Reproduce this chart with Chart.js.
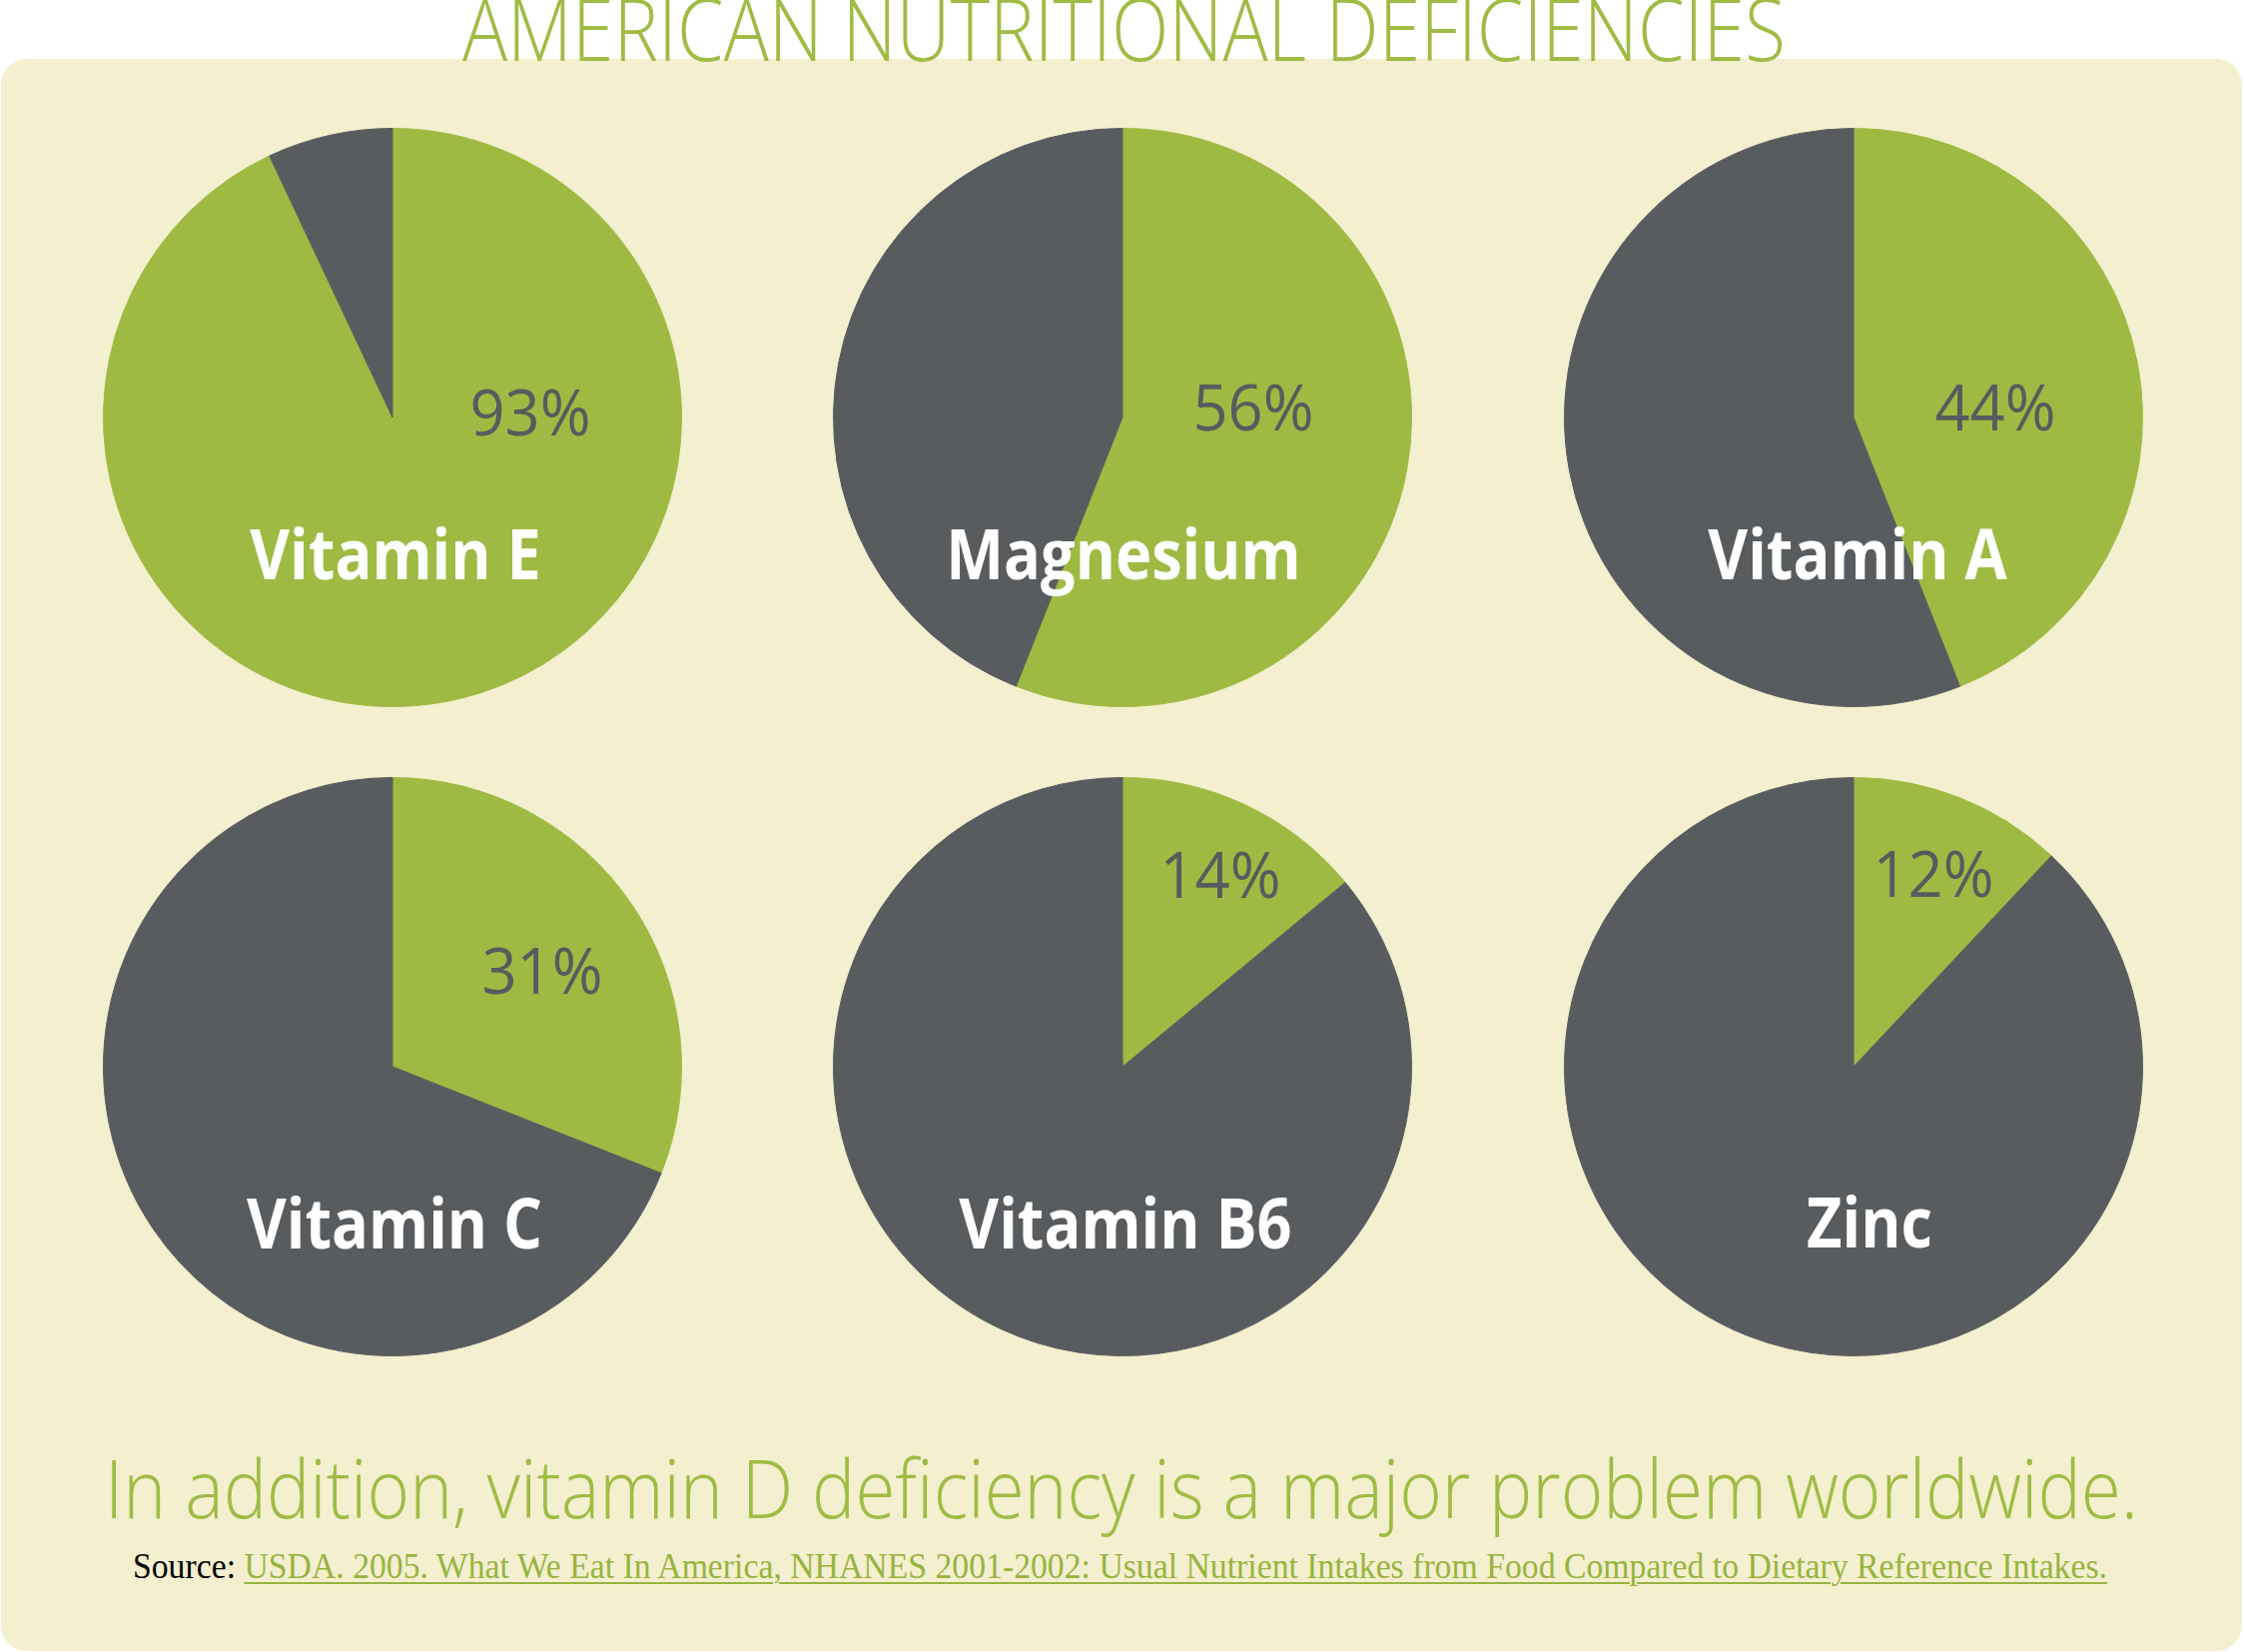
<!DOCTYPE html>
<html>
<head>
<meta charset="utf-8">
<title>American Nutritional Deficiencies</title>
<script src="https://cdn.jsdelivr.net/npm/chart.js@4.4.1/dist/chart.umd.min.js"></script>
<style>
  html, body { margin: 0; padding: 0; background: #fff; }
  body { width: 2246px; height: 1654px; position: relative; overflow: hidden; }
  #panel { position: absolute; left: 1px; top: 59px; width: 2244px; height: 1594px; background: #f3efcf; border-radius: 26px; }
  .fit { position: absolute; white-space: nowrap; transform-origin: 0 0; line-height: 1.2; }
  #title { color: #a0bb44; font-family: "Open Sans"; font-weight: 300; font-size: 86px; }
  #note { color: #a0bb44; font-family: "Open Sans"; font-weight: 300; font-size: 81px; }
  #source { font-family: "Liberation Serif"; font-size: 36px; color: #000; }
  #source a { color: #97b43f; text-decoration: underline; text-decoration-thickness: 2px; text-underline-offset: 4px; }
  canvas { position: absolute; }
</style>
</head>
<body>
<div id="panel"></div>
<div id="title" class="fit">AMERICAN NUTRITIONAL DEFICIENCIES</div>
<div id="note" class="fit">In addition, vitamin D deficiency is a major problem worldwide.</div>
<div id="source" class="fit">Source: <a>USDA. 2005. What We Eat In America, NHANES 2001-2002: Usual Nutrient Intakes from Food Compared to Dietary Reference Intakes.</a></div>

<script>
// nutrients and share of Americans below requirement (%)
const nutrients = ['Vitamin E', 'Magnesium', 'Vitamin A', 'Vitamin C', 'Vitamin B6', 'Zinc'];
const deficientPct = [93, 56, 44, 31, 14, 12];

// colours
const GREEN = '#9fba42';
const GREY = '#595c5f';

// layout: pie centres and label offsets (px from centre)
const pieCentres = [[393, 418], [1124, 418], [1856, 418], [393, 1068], [1124, 1068], [1856, 1068]];
const pctOffsets = [[138, 18], [131, 13], [142, 13], [150, -73], [98, -169], [80, -170]];
const nameOffsets = [[3, 162], [1, 162], [4, 162], [2, 182], [3, 182], [16, 181]];
const RADIUS = 290;
const BOX = 600;

function drawCondensed(ctx, text, x, y, font, color, squeeze) {
    ctx.save();
    ctx.translate(x, y);
    ctx.scale(squeeze, 1);
    ctx.font = font;
    ctx.fillStyle = color;
    ctx.textAlign = 'center';
    ctx.textBaseline = 'alphabetic';
    ctx.fillText(text, 0, 0);
    ctx.restore();
}

// draws the percentage and the nutrient name on top of the pie
const sliceLabels = {
    id: 'sliceLabels',
    afterDatasetsDraw(chart, args, opts) {
        const arc = chart.getDatasetMeta(0).data[0];
        const ctx = chart.ctx;
        drawCondensed(ctx, opts.pct, arc.x + opts.pctOffset[0], arc.y + opts.pctOffset[1],
            '400 64px "Open Sans"', '#585b5e', 0.96);
        drawCondensed(ctx, opts.name, arc.x + opts.nameOffset[0], arc.y + opts.nameOffset[1],
            '700 70px "Open Sans"', '#ffffff', 0.875);
    }
};

function makePie(i) {
    const canvas = document.createElement('canvas');
    canvas.width = BOX;
    canvas.height = BOX;
    canvas.style.left = (pieCentres[i][0] - BOX / 2) + 'px';
    canvas.style.top = (pieCentres[i][1] - BOX / 2) + 'px';
    document.body.appendChild(canvas);

    new Chart(canvas.getContext('2d'), {
        type: 'pie',
        data: {
            labels: ['Deficient', 'Adequate'],
            datasets: [{
                data: [deficientPct[i], 100 - deficientPct[i]],
                backgroundColor: [GREEN, GREY],
                borderColor: [GREEN, GREY],
                borderWidth: 1
            }]
        },
        options: {
            responsive: false,
            animation: false,
            events: [],
            layout: { padding: BOX / 2 - RADIUS },
            plugins: {
                legend: { display: false },
                tooltip: { enabled: false },
                sliceLabels: {
                    pct: deficientPct[i] + '%',
                    name: nutrients[i],
                    pctOffset: pctOffsets[i],
                    nameOffset: nameOffsets[i]
                }
            }
        },
        plugins: [sliceLabels]
    });
}

// put a text line so its baseline sits at y and it spans left..right
function placeText(id, left, right, baseline) {
    const el = document.getElementById(id);
    el.style.left = left + 'px';
    el.style.top = '0px';
    const mark = document.createElement('span');
    mark.style.cssText = 'display:inline-block;width:0;height:0;vertical-align:baseline';
    el.appendChild(mark);
    const base = mark.offsetTop;
    const w = el.getBoundingClientRect().width;
    el.style.top = (baseline - base) + 'px';
    el.style.transform = 'scaleX(' + ((right - left) / w) + ')';
}

document.fonts.ready.then(function() {
    placeText('title', 463, 1788, 61);
    placeText('note', 105, 2141, 1520);
    placeText('source', 133, 2110, 1580);
    for (let i = 0; i < nutrients.length; i++) makePie(i);
});
</script>
</body>
</html>
